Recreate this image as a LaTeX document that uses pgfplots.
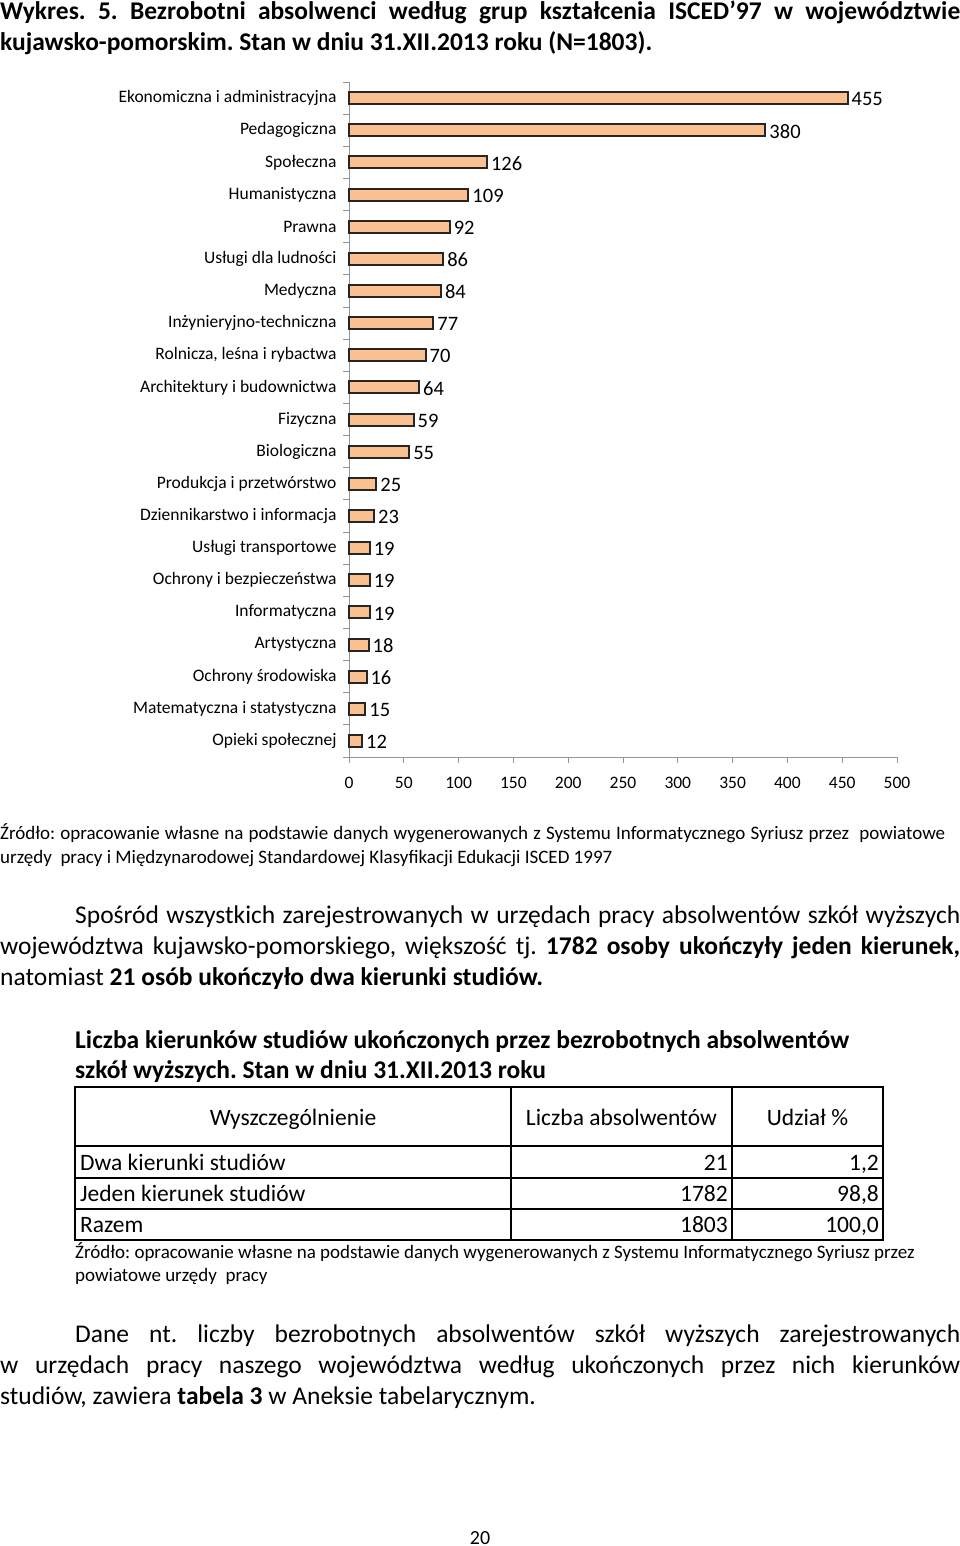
\documentclass[border=0pt]{standalone}
\usepackage{pgfplots}
\pgfplotsset{compat=1.18}
\usepackage{fontspec}
\setmainfont{Carlito}
\frenchspacing
\definecolor{barfill}{RGB}{250,192,144}
\definecolor{axgray}{RGB}{150,150,150}
\newcommand{\fs}[1]{\fontsize{#1}{#1}\selectfont}

\pgfplotstableread{
idx val
0 455
1 380
2 126
3 109
4 92
5 86
6 84
7 77
8 70
9 64
10 59
11 55
12 25
13 23
14 19
15 19
16 19
17 18
18 16
19 15
20 12
}\grupy

\begin{document}
\begin{tikzpicture}
\useasboundingbox (0pt,0pt) rectangle (960pt,-1546pt);

% title
\node[anchor=base west, inner sep=0] at (0pt,-20pt) {\fs{25.5}\bfseries\makebox[960pt][s]{Wykres. 5. Bezrobotni absolwenci według grup kształcenia ISCED’97 w województwie}};
\node[anchor=base west, inner sep=0] at (0pt,-51pt) {\fs{25.5}\bfseries kujawsko-pomorskim. Stan w dniu 31.XII.2013 roku (N=1803).};

\begin{axis}[
  at={(349pt,-757pt)}, anchor=south west,
  scale only axis, width=548pt, height=675pt,
  xbar, bar width=12pt,
  xmin=0, xmax=500, ymin=-0.5, ymax=20.5, y dir=reverse,
  xtick={0,50,...,500},
  ytick={-0.5,0.5,...,20.5},
  y tick label as interval,
  yticklabels={Ekonomiczna i administracyjna,Pedagogiczna,Społeczna,Humanistyczna,Prawna,Usługi dla ludności,Medyczna,Inżynieryjno-techniczna,{Rolnicza, leśna i rybactwa},Architektury i budownictwa,Fizyczna,Biologiczna,Produkcja i przetwórstwo,Dziennikarstwo i informacja,Usługi transportowe,Ochrony i bezpieczeństwa,Informatyczna,Artystyczna,Ochrony środowiska,Matematyczna i statystyczna,Opieki społecznej},
  axis x line=bottom, axis y line=left,
  axis line style={-, draw=axgray, line width=1pt},
  tick style={draw=axgray, line width=0.8pt},
  major tick length=6pt, tick align=outside,
  /pgf/number format/assume math mode=true,
  xticklabel style={font=\fs{17.5}, yshift=-11pt},
  yticklabel style={font=\fs{17.5}, xshift=-3pt},
  nodes near coords,
  every node near coord/.append style={font=\fs{20.5}, black, anchor=west, inner sep=3pt, yshift=-1pt},
  clip=false,
]
\addplot[draw=black!85, line width=2pt, fill=barfill] table[x=val, y=idx] {\grupy};
\end{axis}

% source 1
\node[anchor=base west, inner sep=0] at (0pt,-839pt) {\fs{19}\makebox[945pt][s]{Źródło: opracowanie własne na podstawie danych wygenerowanych z Systemu Informatycznego Syriusz przez\ \ powiatowe}};
\node[anchor=base west, inner sep=0] at (0pt,-863pt) {\fs{19}urzędy\ \ pracy i Międzynarodowej Standardowej Klasyfikacji Edukacji ISCED 1997};

% paragraph 1
\node[anchor=base west, inner sep=0] at (75pt,-923pt) {\fs{25.5}\makebox[885pt][s]{Spośród wszystkich zarejestrowanych w urzędach pracy absolwentów szkół wyższych}};
\node[anchor=base west, inner sep=0] at (0pt,-954pt) {\fs{25.5}\makebox[960pt][s]{województwa kujawsko-pomorskiego, większość tj. \textbf{1782 osoby ukończyły jeden kierunek,}}};
\node[anchor=base west, inner sep=0] at (0pt,-985pt) {\fs{25.5}natomiast \textbf{21 osób ukończyło dwa kierunki studiów.}};

% table heading
\node[anchor=base west, inner sep=0] at (75pt,-1048pt) {\fs{25.5}\bfseries Liczba kierunków studiów ukończonych przez bezrobotnych absolwentów};
\node[anchor=base west, inner sep=0] at (75pt,-1078pt) {\fs{25.5}\bfseries szkół wyższych. Stan w dniu 31.XII.2013 roku};

% table
\draw[line width=2.5pt] (75pt,-1087pt) rectangle (883pt,-1240pt);
\draw[line width=2.5pt] (75pt,-1146pt) -- (883pt,-1146pt);
\draw[line width=1.5pt] (75pt,-1178pt) -- (883pt,-1178pt);
\draw[line width=1.5pt] (75pt,-1209pt) -- (883pt,-1209pt);
\draw[line width=1.5pt] (511pt,-1087pt) -- (511pt,-1240pt);
\draw[line width=1.5pt] (732pt,-1087pt) -- (732pt,-1240pt);
\node[anchor=base, inner sep=0] at (293pt,-1125pt) {\fs{23.5}Wyszczególnienie};
\node[anchor=base, inner sep=0] at (621.5pt,-1125pt) {\fs{23.5}Liczba absolwentów};
\node[anchor=base, inner sep=0] at (807.5pt,-1125pt) {\fs{23.5}Udział \%};
\node[anchor=base west, inner sep=0] at (80pt,-1170pt) {\fs{23.5}Dwa kierunki studiów};
\node[anchor=base west, inner sep=0] at (80pt,-1201pt) {\fs{23.5}Jeden kierunek studiów};
\node[anchor=base west, inner sep=0] at (80pt,-1232pt) {\fs{23.5}Razem};
\node[anchor=base east, inner sep=0] at (728pt,-1170pt) {\fs{23.5}21};
\node[anchor=base east, inner sep=0] at (728pt,-1201pt) {\fs{23.5}1782};
\node[anchor=base east, inner sep=0] at (728pt,-1232pt) {\fs{23.5}1803};
\node[anchor=base east, inner sep=0] at (879pt,-1170pt) {\fs{23.5}1,2};
\node[anchor=base east, inner sep=0] at (879pt,-1201pt) {\fs{23.5}98,8};
\node[anchor=base east, inner sep=0] at (879pt,-1232pt) {\fs{23.5}100,0};

% source 2
\node[anchor=base west, inner sep=0] at (75pt,-1258pt) {\fs{19}Źródło: opracowanie własne na podstawie danych wygenerowanych z Systemu Informatycznego Syriusz przez};
\node[anchor=base west, inner sep=0] at (75pt,-1281pt) {\fs{19}powiatowe urzędy\ \ pracy};

% paragraph 2
\node[anchor=base west, inner sep=0] at (75pt,-1342pt) {\fs{25.5}\makebox[885pt][s]{Dane nt. liczby bezrobotnych absolwentów szkół wyższych zarejestrowanych}};
\node[anchor=base west, inner sep=0] at (0pt,-1373pt) {\fs{25.5}\makebox[960pt][s]{w urzędach pracy naszego województwa według ukończonych przez nich kierunków}};
\node[anchor=base west, inner sep=0] at (0pt,-1404pt) {\fs{25.5}studiów, zawiera \textbf{tabela 3} w Aneksie tabelarycznym.};

% page number
\node[anchor=base, inner sep=0] at (480pt,-1544pt) {\fs{20}20};
\end{tikzpicture}
\end{document}
